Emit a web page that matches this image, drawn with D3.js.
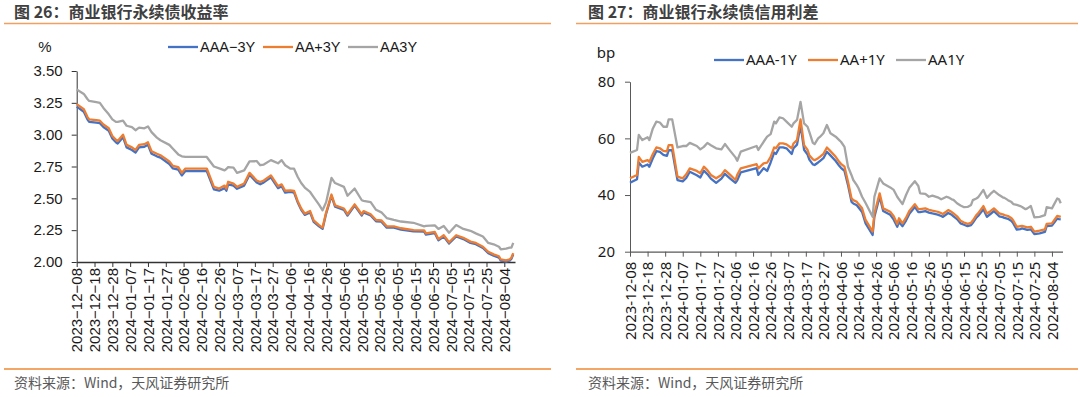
<!DOCTYPE html>
<html>
<head>
<meta charset="utf-8">
<title>商业银行永续债</title>
<script src="https://cdn.jsdelivr.net/npm/d3@7"></script>
<style>
  body { margin: 0; background: #fff; }
  svg { display: block; }
</style>
</head>
<body>
<svg id="chart" width="1080" height="397"></svg>
<script>
// ---- data ----
var xTickDates = ["2023-12-08","2023-12-18","2023-12-28","2024-01-07","2024-01-17","2024-01-27",
  "2024-02-06","2024-02-16","2024-02-26","2024-03-07","2024-03-17","2024-03-27","2024-04-06",
  "2024-04-16","2024-04-26","2024-05-06","2024-05-16","2024-05-26","2024-06-05","2024-06-15",
  "2024-06-25","2024-07-05","2024-07-15","2024-07-25","2024-08-04"];

// left: yields (%)
var yieldDates = ["2023-12-08","2023-12-12","2023-12-14","2023-12-15","2023-12-19","2023-12-21","2023-12-23",
  "2023-12-26","2023-12-28","2023-12-30","2023-12-31","2024-01-03","2024-01-05","2024-01-08","2024-01-10",
  "2024-01-12","2024-01-15","2024-01-17","2024-01-19","2024-01-22","2024-01-24","2024-01-29","2024-01-31",
  "2024-02-03","2024-02-05","2024-02-07","2024-02-19","2024-02-23","2024-02-26","2024-02-29","2024-03-01",
  "2024-03-02","2024-03-05","2024-03-07","2024-03-11","2024-03-14","2024-03-18","2024-03-20","2024-03-22",
  "2024-03-26","2024-03-30","2024-04-01","2024-04-03","2024-04-06","2024-04-08","2024-04-10","2024-04-12",
  "2024-04-14","2024-04-17","2024-04-19","2024-04-22","2024-04-24","2024-04-26","2024-04-29","2024-05-01",
  "2024-05-06","2024-05-08","2024-05-12","2024-05-16","2024-05-17","2024-05-21","2024-05-24","2024-05-27",
  "2024-05-30","2024-06-03","2024-06-07","2024-06-14","2024-06-20","2024-06-21","2024-06-26","2024-06-28",
  "2024-07-01","2024-07-04","2024-07-08","2024-07-12","2024-07-16","2024-07-19","2024-07-23","2024-07-26",
  "2024-07-29","2024-08-01","2024-08-02","2024-08-05","2024-08-07","2024-08-08","2024-08-09"];
var yieldAAAminus = [3.220,3.180,3.120,3.100,3.095,3.090,3.060,3.030,2.970,2.940,2.930,2.980,2.900,2.880,2.860,
  2.900,2.905,2.920,2.850,2.830,2.820,2.770,2.735,2.725,2.680,2.714,2.714,2.570,2.560,2.580,2.560,
  2.610,2.600,2.575,2.600,2.685,2.625,2.610,2.625,2.665,2.580,2.595,2.545,2.550,2.545,2.470,2.410,
  2.370,2.390,2.315,2.280,2.260,2.380,2.520,2.435,2.410,2.365,2.443,2.365,2.390,2.365,2.320,2.317,
  2.270,2.270,2.255,2.240,2.239,2.215,2.226,2.170,2.200,2.145,2.200,2.180,2.150,2.140,2.110,2.070,
  2.050,2.035,2.010,2.003,2.010,2.025,2.060];
var yieldAAplus = [3.240,3.200,3.140,3.120,3.115,3.110,3.080,3.050,2.990,2.960,2.950,3.000,2.920,2.900,2.880,
  2.920,2.925,2.940,2.870,2.850,2.838,2.790,2.755,2.746,2.700,2.734,2.734,2.590,2.577,2.600,2.577,
  2.630,2.616,2.590,2.616,2.700,2.640,2.628,2.640,2.680,2.595,2.610,2.560,2.563,2.558,2.480,2.420,
  2.380,2.400,2.327,2.290,2.270,2.390,2.530,2.445,2.420,2.375,2.453,2.375,2.400,2.375,2.330,2.327,
  2.280,2.280,2.265,2.250,2.249,2.225,2.236,2.180,2.210,2.155,2.210,2.190,2.160,2.150,2.120,2.080,
  2.060,2.045,2.020,2.013,2.020,2.035,2.070];
var yieldAA = [3.355,3.320,3.280,3.265,3.255,3.250,3.210,3.160,3.120,3.100,3.100,3.110,3.070,3.060,3.035,
  3.055,3.050,3.065,3.020,2.977,2.956,2.920,2.890,2.845,2.830,2.825,2.825,2.750,2.735,2.720,2.730,
  2.745,2.741,2.700,2.720,2.790,2.793,2.760,2.765,2.800,2.775,2.800,2.760,2.733,2.733,2.670,2.620,
  2.585,2.550,2.510,2.450,2.406,2.470,2.660,2.620,2.590,2.520,2.577,2.485,2.480,2.470,2.410,2.390,
  2.345,2.330,2.318,2.308,2.280,2.283,2.288,2.260,2.283,2.230,2.290,2.260,2.245,2.225,2.200,2.150,
  2.139,2.120,2.100,2.105,2.113,2.113,2.150];
var yieldTicks = [2.00, 2.25, 2.50, 2.75, 3.00, 3.25, 3.50];

// right: credit spreads (bp)
var spreadDates = ["2023-12-08","2023-12-12","2023-12-13","2023-12-15","2023-12-18","2023-12-19","2023-12-21",
  "2023-12-23","2023-12-25","2023-12-27","2023-12-29","2023-12-30","2024-01-01","2024-01-04","2024-01-07",
  "2024-01-09","2024-01-11","2024-01-15","2024-01-17","2024-01-19","2024-01-21","2024-01-23","2024-01-26",
  "2024-01-29","2024-01-31","2024-02-03","2024-02-06","2024-02-07","2024-02-09","2024-02-18","2024-02-19",
  "2024-02-22","2024-02-24","2024-02-26","2024-02-28","2024-02-29","2024-03-02","2024-03-04","2024-03-06",
  "2024-03-09","2024-03-10","2024-03-12","2024-03-14","2024-03-16","2024-03-18","2024-03-19","2024-03-21",
  "2024-03-22","2024-03-24","2024-03-25","2024-03-27","2024-03-29","2024-03-31","2024-04-03","2024-04-05",
  "2024-04-06","2024-04-08","2024-04-10","2024-04-12","2024-04-13","2024-04-15","2024-04-16","2024-04-18",
  "2024-04-20","2024-04-24","2024-04-25","2024-04-28","2024-04-30","2024-05-04","2024-05-06","2024-05-08",
  "2024-05-09","2024-05-11","2024-05-13","2024-05-15","2024-05-18","2024-05-20","2024-05-21","2024-05-24",
  "2024-05-26","2024-05-28","2024-05-31","2024-06-02","2024-06-03","2024-06-05","2024-06-06","2024-06-08",
  "2024-06-09","2024-06-11","2024-06-13","2024-06-15","2024-06-17","2024-06-19","2024-06-20","2024-06-22",
  "2024-06-23","2024-06-26","2024-06-28","2024-06-30","2024-07-02","2024-07-05","2024-07-07","2024-07-08",
  "2024-07-10","2024-07-12","2024-07-13","2024-07-15","2024-07-17","2024-07-18","2024-07-20","2024-07-21",
  "2024-07-23","2024-07-25","2024-07-28","2024-07-31","2024-08-01","2024-08-04","2024-08-07","2024-08-08",
  "2024-08-09"];
var spreadAAAminus = [44.3,45.6,51.5,50.0,50.8,50.0,53.0,55.5,55.2,54.2,53.8,55.8,55.8,45.3,44.8,
  46.0,48.2,47.0,46.2,48.6,47.4,45.8,44.3,45.8,47.5,45.8,44.3,45.2,48.0,49.5,47.1,
  49.5,48.5,51.5,55.0,54.5,56.8,56.8,56.5,54.5,56.5,57.8,64.7,56.0,54.3,52.5,50.8,
  50.6,51.5,52.0,53.0,55.3,54.0,52.0,50.3,49.6,48.5,43.5,37.6,37.0,36.4,35.6,34.0,
  30.0,25.9,32.3,39.4,34.4,33.0,31.3,28.8,30.5,29.0,31.0,33.5,35.8,34.0,34.0,34.3,
  33.8,33.5,33.1,32.6,32.3,33.2,33.7,33.0,32.5,31.5,30.0,29.5,29.0,29.4,30.2,32.0,
  32.6,35.0,32.3,33.3,34.3,32.5,32.2,31.9,31.6,30.8,30.0,27.8,28.0,28.2,27.9,27.7,
  27.9,26.2,26.5,27.0,29.0,29.2,31.7,31.5,31.4];
var spreadAAplus = [45.9,47.1,53.5,51.7,52.3,51.7,54.5,56.8,56.5,55.6,55.4,57.6,57.6,46.5,45.9,
  47.3,49.4,48.5,47.7,50.0,48.8,47.1,45.9,47.1,48.8,47.1,45.3,47.1,49.4,50.9,49.4,
  51.2,51.4,53.5,56.8,56.5,58.2,58.2,57.9,56.5,58.2,59.4,66.7,57.6,55.9,54.0,52.6,
  52.3,53.0,53.5,54.5,56.8,55.5,53.5,51.7,51.0,50.0,44.7,38.8,38.2,37.6,36.8,35.3,
  31.2,27.1,33.5,40.6,35.3,34.1,32.5,29.8,31.8,30.0,32.0,34.5,36.8,35.0,35.0,35.3,
  34.8,34.5,34.1,33.6,33.3,34.2,34.7,34.0,33.5,32.5,30.9,30.3,29.8,30.2,31.0,32.9,
  33.5,36.1,33.5,34.3,35.3,33.5,33.2,32.9,32.6,31.8,31.0,28.8,29.0,29.1,28.8,28.6,
  28.8,27.1,27.4,27.9,29.8,30.0,32.6,32.5,32.3];
var spreadAA = [54.9,55.9,61.2,59.4,60.4,59.4,63.5,65.9,65.6,64.1,64.1,66.7,66.7,56.8,57.3,
  57.3,58.4,57.3,56.1,57.0,58.4,57.6,56.5,56.1,58.0,55.6,53.3,52.1,55.3,57.3,55.9,
  58.8,60.6,61.5,65.9,65.3,67.4,67.1,65.9,64.1,65.3,66.5,72.9,65.3,64.1,62.3,58.4,
  58.0,60.0,60.5,61.8,64.7,61.8,60.6,59.4,58.8,57.0,50.0,47.0,45.3,43.5,42.4,39.4,
  37.2,32.3,39.4,45.9,44.1,42.7,41.8,39.4,38.5,36.8,40.0,42.7,44.9,43.2,40.6,40.4,
  39.4,39.8,39.2,38.5,38.8,39.4,39.2,38.5,38.3,37.1,36.3,35.7,35.8,36.5,38.2,38.8,
  39.2,41.8,39.0,40.4,41.5,40.0,39.2,39.0,38.2,37.5,36.8,36.5,36.1,35.8,35.0,35.3,
  36.1,32.1,32.3,32.9,35.7,35.3,38.8,38.5,37.1];
var spreadTicks = [20, 40, 60, 80];

var colors = ["#4472C4", "#ED7D31", "#A5A5A5"];

var parse = d3.timeParse("%Y-%m-%d");
var svg = d3.select("#chart");
var cjk = "'Noto Sans CJK SC', sans-serif";

// header / footer decoration of each panel
function frame(x0, lineX0, lineX1, title) {
    svg.append("text").attr("x", x0).attr("y", 17.5)
        .attr("font-family", cjk).attr("font-size", 16).attr("font-weight", 700)
        .attr("fill", "#404040").text(title);
    svg.append("line").attr("x1", lineX0).attr("x2", lineX1).attr("y1", 23.5).attr("y2", 23.5)
        .attr("stroke", "#F2A062").attr("stroke-width", 1.5);
    svg.append("line").attr("x1", lineX0).attr("x2", lineX1).attr("y1", 369).attr("y2", 369)
        .attr("stroke", "#F08A32").attr("stroke-width", 1.5);
    svg.append("text").attr("x", x0).attr("y", 388)
        .attr("font-family", cjk).attr("font-size", 14)
        .attr("fill", "#595959").text("资料来源：Wind，天风证券研究所");
}

function panel(cfg) {
    var x = d3.scaleTime()
        .domain([parse("2023-12-08"), parse("2024-08-10")])
        .range([cfg.left, cfg.right]);
    var y = d3.scaleLinear().domain(cfg.yDomain).range([cfg.bottom, cfg.top]);

    var g = svg.append("g");

    // y axis
    var ya = g.append("g").attr("transform", "translate(" + cfg.left + ",0)")
        .call(d3.axisLeft(y).tickValues(cfg.yTicks).tickSize(5).tickSizeOuter(0)
            .tickPadding(cfg.yPad).tickFormat(cfg.yFormat));
    ya.select(".domain").attr("stroke", cfg.axisColor);
    ya.selectAll(".tick line").attr("stroke", cfg.axisColor);
    ya.selectAll("text").attr("font-family", cfg.font).attr("font-size", cfg.fontSize).attr("fill", "#1a1a1a");

    // x axis
    var xa = g.append("g").attr("transform", "translate(0," + cfg.bottom + ")")
        .call(d3.axisBottom(x).tickValues(xTickDates.map(parse)).tickSize(5).tickSizeOuter(0)
            .tickFormat(function(d) { return d3.timeFormat("%Y-%m-%d")(d).replace(/-/g, cfg.dash); }));
    xa.select(".domain").attr("stroke", cfg.axisColor).attr("stroke-width", cfg.axisWidth);
    xa.selectAll(".tick line").attr("stroke", cfg.axisColor);
    xa.selectAll("text")
        .attr("transform", "rotate(-90)")
        .attr("x", -cfg.xGap).attr("y", 0).attr("dy", "0.35em")
        .style("text-anchor", "end")
        .attr("font-family", cfg.font).attr("font-size", cfg.fontSize).attr("fill", "#1a1a1a");

    // lines
    var dates = cfg.dates.map(parse);
    var line = d3.line()
        .x(function(d, i) { return x(dates[i]); })
        .y(function(d) { return y(d); });
    cfg.series.forEach(function(s, i) {
        g.append("path").datum(s.values)
            .attr("d", line)
            .attr("fill", "none")
            .attr("stroke", colors[i])
            .attr("stroke-width", 2.3)
            .attr("stroke-linejoin", "round");
    });

    // unit label
    g.append("text").attr("x", cfg.unitX).attr("y", cfg.unitY).attr("dy", "0.35em")
        .attr("text-anchor", "middle")
        .attr("font-family", cfg.font).attr("font-size", cfg.fontSize).attr("fill", "#1a1a1a")
        .text(cfg.unit);

    // legend
    cfg.series.forEach(function(s, i) {
        var lx = cfg.legendX[i];
        g.append("line").attr("x1", lx).attr("x2", lx + 30)
            .attr("y1", cfg.legendY).attr("y2", cfg.legendY)
            .attr("stroke", colors[i]).attr("stroke-width", 2.3);
        g.append("text").attr("x", lx + 32).attr("y", cfg.legendY).attr("dy", "0.35em")
            .attr("font-family", cfg.font).attr("font-size", cfg.legendSize).attr("fill", "#1a1a1a")
            .text(s.name);
    });
}

frame(14, 4, 551, "图 26：商业银行永续债收益率");
frame(588, 576, 1078, "图 27：商业银行永续债信用利差");

panel({
    left: 76.7, right: 515, top: 71, bottom: 262,
    yDomain: [2.0, 3.5], yTicks: yieldTicks, yPad: 9,
    yFormat: d3.format(".2f"),
    dates: yieldDates,
    series: [
        { name: "AAA−3Y", values: yieldAAAminus },
        { name: "AA+3Y", values: yieldAAplus },
        { name: "AA3Y", values: yieldAA }
    ],
    font: "'Liberation Sans', Arial, sans-serif", fontSize: 15, legendSize: 14.5,
    dash: "−", xGap: 6, axisColor: "#333", axisWidth: 1.3,
    unit: "%", unitX: 45, unitY: 47,
    legendX: [168, 263, 348], legendY: 47
});

panel({
    left: 630, right: 1062.5, top: 81.7, bottom: 251.7,
    yDomain: [20, 80], yTicks: spreadTicks, yPad: 10,
    yFormat: d3.format("d"),
    dates: spreadDates,
    series: [
        { name: "AAA-1Y", values: spreadAAAminus },
        { name: "AA+1Y", values: spreadAAplus },
        { name: "AA1Y", values: spreadAA }
    ],
    font: "'Noto Sans', sans-serif", fontSize: 15, legendSize: 15,
    dash: "-", xGap: 10, axisColor: "#595959", axisWidth: 1.2,
    unit: "bp", unitX: 606, unitY: 53,
    legendX: [714, 808, 896], legendY: 60
});
</script>
</body>
</html>
